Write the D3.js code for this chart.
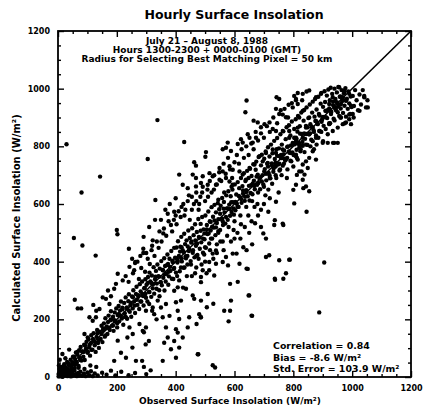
<!DOCTYPE html>
<html>
<head>
<meta charset="utf-8">
<script src="https://cdn.jsdelivr.net/npm/d3@7"></script>
<style>
  html, body { margin: 0; padding: 0; background: #fff; }
  svg { display: block; }
  text { font-family: "DejaVu Sans", "Liberation Sans", sans-serif; font-weight: bold; fill: #000; }
</style>
</head>
<body>
<svg id="chart" width="423" height="410"></svg>
<script>
// ---------------- data ----------------
const title = "Hourly Surface Insolation";
const subtitleLines = [
  "July 21 \u2013 August 8, 1988",
  "Hours 1300-2300 + 0000-0100 (GMT)",
  "Radius for Selecting Best Matching Pixel = 50 km"
];
const statsLines = [
  "Correlation = 0.84",
  "Bias = -8.6 W/m\u00b2",
  "Std. Error = 103.9 W/m\u00b2"
];
const xLabel = "Observed Surface Insolation (W/m\u00b2)";
const yLabel = "Calculated Surface Insolation (W/m\u00b2)";
const majorTicks = [0, 200, 400, 600, 800, 1000, 1200];
const minorTicks = [50,100,150,250,300,350,450,500,550,650,700,750,850,900,950,1050,1100,1150];
const diagonal = [[0, 0], [1200, 1200]];

// observed, calculated pairs (W/m^2)
const cornerPoints = [[2,2],[5,15],[8,4],[12,10],[16,2],[20,18],[24,6],[28,14],[32,3],[36,20],[40,8],[44,2],[48,15],[52,5],[56,22],[60,10],[64,3],[68,14],[72,5],[76,18],[82,4],[88,12],[94,3],[100,16],[106,6],[112,20],[118,3],[125,12],[135,5],[150,15],[165,8],[180,22],[195,5],[215,18],[240,6],[262,14],[300,10],[3,40],[10,28],[18,34],[30,30],[45,40],[60,45],[70,32],[90,28],[110,40],[130,35],[25,65],[15,80],[38,95],[6,60]];

const bandPoints = [
[2,10],[5,28],[7,3],[9,19],[13,35],[15,8],[18,27],[21,44],[22,12],[26,33],[29,18],[31,52],[34,26],[38,41],[39,15],[43,60],[45,33],[48,22],
[51,70],[53,44],[57,31],[58,62],[61,85],[64,49],[66,77],[70,38],[72,93],[75,66],[77,104],[80,57],[84,89],[86,70],[89,112],[91,59],[95,98],[97,122],
[101,84],[104,131],[106,103],[109,74],[112,118],[113,145],[117,95],[120,128],[121,152],[125,110],[128,87],[131,139],[133,163],[136,118],[139,101],[142,157],[145,132],[148,178],
[151,121],[153,163],[156,186],[159,140],[161,204],[164,170],[168,149],[170,191],[172,213],[176,163],[179,197],[180,228],[184,178],[187,209],[189,160],[193,224],[196,192],[198,238],
[201,172],[203,215],[206,246],[208,193],[211,231],[214,262],[217,203],[219,240],[222,181],[225,257],[227,221],[230,276],[233,239],[235,202],[239,263],[241,287],[244,226],[247,258],[249,209],
[252,279],[254,238],[256,301],[259,263],[262,222],[265,288],[267,313],[270,250],[273,279],[276,236],[278,322],[281,297],[283,262],[286,331],[289,281],[291,248],[295,309],[297,339],[299,275],
[301,320],[304,262],[306,347],[309,295],[311,362],[314,331],[317,278],[319,352],[322,308],[325,381],[327,289],[330,339],[333,368],[335,306],[338,390],[341,350],[344,301],[346,376],[349,329],
[351,402],[353,318],[356,371],[358,344],[361,412],[364,385],[366,331],[369,358],[372,425],[374,392],[377,349],[379,410],[382,368],[385,437],[387,341],[390,399],[393,375],[395,448],[398,414],
[401,362],[403,449],[406,397],[408,471],[411,420],[414,367],[416,452],[419,486],[421,401],[424,440],[427,379],[429,497],[432,461],[435,412],[437,474],[440,390],[443,508],[445,437],[448,482],
[451,402],[453,466],[456,516],[458,431],[461,492],[464,415],[466,530],[469,455],[472,503],[474,423],[477,548],[479,486],[482,445],[485,531],[487,467],[490,555],[493,431],[495,512],[498,478],
[501,560],[503,448],[506,527],[508,496],[511,574],[514,463],[516,540],[519,508],[522,589],[524,480],[527,556],[529,518],[532,597],[535,492],[537,571],[540,534],[543,603],[545,506],[548,582],
[551,510],[553,594],[556,548],[558,621],[561,527],[564,607],[566,571],[569,532],[572,630],[574,585],[577,545],[579,644],[582,598],[585,559],[587,627],[590,572],[593,650],[595,606],[598,563],
[601,668],[603,578],[606,633],[608,601],[611,676],[614,590],[616,655],[619,623],[622,690],[624,604],[627,662],[629,636],[632,707],[635,611],[637,680],[640,648],[643,715],[645,627],[648,690],
[651,612],[653,722],[656,665],[658,697],[661,634],[664,738],[666,681],[669,651],[672,719],[674,747],[677,667],[679,702],[682,763],[685,688],[687,651],[690,734],[693,771],[695,700],[698,668],
[701,757],[703,721],[706,782],[708,682],[711,740],[714,797],[716,708],[719,765],[722,689],[724,806],[727,741],[729,776],[732,712],[735,819],[737,756],[740,700],[743,790],[745,829],[748,737],
[751,793],[753,716],[756,842],[758,770],[761,806],[764,733],[766,852],[769,785],[772,751],[774,825],[777,866],[779,760],[782,800],[785,873],[787,778],[790,838],[793,748],[795,886],[798,812],
[801,770],[803,860],[806,828],[808,894],[811,788],[814,851],[816,905],[819,812],[822,870],[824,783],[827,917],[829,843],[832,802],[835,889],[837,926],[840,826],[843,871],[845,935],[848,805],
[851,898],[853,842],[856,945],[858,877],[861,823],[864,917],[866,955],[869,856],[872,903],[874,964],[877,838],[879,928],[882,880],[885,972],[887,912],[890,853],[893,948],[895,985],[898,893],
[901,937],[903,871],[906,991],[908,954],[911,901],[914,976],[916,925],[919,997],[922,880],[924,960],[927,1003],[929,919],[932,982],[935,943],[937,896],[940,1000],[943,964],[945,925],[948,987],
[951,948],[953,1006],[956,905],[958,972],[961,931],[964,995],[966,957],[969,916],[972,984],[974,941],[977,1002],[979,903],[982,965],[985,930],[987,990],[990,949],[993,912],[995,973],[998,936],
[1002,975],[1006,940],[1010,995],[1015,960],[1020,925],[1025,980],[1030,945],[1036,995],[1041,970],[1047,935],[1052,960]
];

const corePoints = [
[10,16],[15,1],[23,42],[29,26],[36,47],[40,22],[49,51],[55,70],[62,53],[67,88],[75,59],[81,89],[88,87],[92,109],[101,89],[107,111],[114,94],[119,132],[127,121],[134,152],[139,128],[148,149],[154,168],[161,144],[166,175],[174,170],[180,200],[187,179],[192,197],[201,186],[207,219],[214,212],[219,235],[228,209],[234,241],[241,231],[246,249],[255,277],[261,248],[268,268],
[273,284],[280,262],[286,288],[293,308],[297,288],[305,326],[311,295],[318,326],[323,322],[331,348],[336,324],[344,348],[349,329],[357,370],[362,356],[370,388],[376,365],[381,382],[389,403],[395,378],[402,411],[407,403],[415,435],[420,412],[428,433],[434,419],[441,453],[446,444],[454,470],[459,440],[467,474],[473,463],[480,483],[485,507],[493,480],[498,498],[506,512],[512,498],[519,538],[524,521],
[532,543],[537,519],[545,547],[551,566],[558,549],[563,584],[571,555],[577,585],[584,583],[589,606],[597,585],[603,607],[610,590],[615,628],[623,617],[629,647],[636,625],[641,642],[649,663],[655,638],[662,671],[667,663],[675,695],[681,673],[688,693],[693,678],[701,713],[707,705],[714,730],[719,700],[727,734],[733,723],[740,743],[745,767],[753,740],[759,759],[766,772],[771,757],[779,798],[785,782],
[792,803],[797,779],[805,807],[811,826],[818,809],[823,844],[831,815],[837,845],[844,843],[849,866],[857,845],[863,867],[870,850],[875,888],[883,877],[889,907],[896,885],[901,902],[909,923],[915,898],[922,931],[927,923],[935,955],[941,933],[948,953],[953,938],[961,973],[967,965],[974,990],[979,960]
];

const upperPoints = [
[29,807],[80,640],[54,482],[83,456],[143,695],[128,421],[200,510],[202,495],[241,445],[291,486],[290,445],[290,430],[305,756],[338,891],[429,815],[641,959],[637,918],[331,614],[322,474],[345,505],[358,498],[373,566],[395,573],[384,527],[252,410],[263,399],[243,382],[259,370],[203,358],[220,335],[197,323],[191,306],[152,276],[163,271],[141,236],[175,253],[107,207],[118,195],[129,207],[90,149],[101,137],[57,268],[67,238],[79,238],
[743,970],[752,964],[803,975],[809,960],[784,944],[798,935],[741,930],[752,912],[764,910],[775,901],[665,889],[679,883],[690,866],[702,877],[719,883],[730,860],[645,842],[651,830],[673,830],[662,813],[622,825],[628,813],[611,808],[577,813],[571,795],[588,784],[560,790],[503,780],[501,764],[463,745],[469,733],[412,702],[458,702],[469,690],[492,696],[515,707],[526,696],[549,725],[560,713],[583,731],[594,719],[424,667],[441,655],[469,661],[486,673],[509,667],[537,667],[549,684],[571,690],[583,678],[594,667],[628,702],[639,684],[617,713],[651,725],[668,737],[685,766],[696,748],[707,777],[713,742],[730,789],[741,777],[752,766],[764,789],[775,754],[792,777],[809,766],[741,853],[764,853],[786,853],[803,830],[815,865],[786,830],[809,818],[820,806],
[380,600],[400,620],[420,590],[445,630],[470,610],[490,640],[510,625],[530,650],[545,615],[565,640],[590,660],[430,560],[455,580],[480,600],[350,545],[365,580],[400,560],[310,520],[330,545],[300,430],[320,455],[270,400],[280,420],[240,330],[230,350],[180,280],[170,300],[130,230],[120,250],
[956,1005],[973,994],[990,982],[968,970],[979,958],[962,947],[1041,975],[1053,935],[1025,923],[934,970],[922,947],[945,935],[911,923],[928,912],[951,918],[996,941],[1002,912],[990,894],[979,883],[996,877],[962,900],[968,877],[951,865],[900,900],[877,888],[854,900],[832,923],[820,900],[843,865],[866,865],[888,853],[832,982],[854,994],[877,970],[894,982],[809,964],[815,947],[922,877],[934,853],[917,842],
[255,360],[262,395],[275,340],[283,378],[296,365],[305,410],[312,392],[318,440],[328,420],[336,470],[342,448],[352,470],[360,515],[368,490],[376,540],[388,505],[394,545],[403,530],[410,575],[417,555],[426,600],[433,580],[441,610],[448,545],[455,625],[462,600],[470,640],[478,580],[484,625],[492,660],[500,610],[508,650],[516,680],[522,640],[531,700],[540,668],[548,710],[555,680],[563,740],[570,705],[578,760],[585,720],[592,690],[600,745],[608,770],[615,740],[624,790],[632,760],[640,800],[648,770],[657,810],[665,790],[672,850],[680,820],[690,845],[700,830],[710,870],[720,850],[732,900],[745,880],[757,925],[770,930],[782,900],[795,950],[815,985],[830,960],[845,990]
];

const lowerPoints = [
[854,842],[832,830],[809,830],[843,806],[820,795],[866,818],[877,830],[900,812],[917,812],[939,812],[951,812],[866,783],[854,760],[843,748],[832,737],[877,754],[849,725],[838,702],[832,684],[843,661],[854,644],[809,771],[815,754],[820,713],[809,667],
[658,213],[888,224],[905,397],[788,407],[766,341],[737,341],[752,405],[707,480],[718,422],[641,376],[650,283],[585,323],[585,230],[528,254],[506,242],[485,207],[471,184],[477,79],[534,33],[607,428],[641,440],[670,533],[698,498],[715,573],[737,544],[766,527],[800,649],[834,655],[845,573],[812,701],[828,713],[879,806],[901,818],[935,812],
[741,608],[803,602],[735,527],[764,532],[707,416],[786,407],[775,360],[738,337],[645,375],[617,393],[578,387],[560,399],[537,393],[594,428],[571,416],[537,439],[526,428],[611,330],[648,283],[588,265],[565,230],[580,193],[660,212],[514,399],[492,370],[486,347],[486,329],[514,370],[531,352],[412,335],[435,306],[458,283],[463,271],[486,265],[509,288],[480,218],[486,207],[446,207],[441,172],[424,137],[412,102],[401,67],[418,265],[407,230],[412,201],[407,154],[475,79],[526,41],
[203,126],[236,137],[253,102],[231,67],[265,56],[214,84],[191,56],[292,155],[298,113],[309,125],[286,56],[292,35],[315,23],[361,119],[373,137],[356,56],[384,96],[395,125],[401,166],[356,207],[339,265],[367,253],[350,241],[401,259],[407,311],[395,299],[310,253],[322,241],[299,230],[327,218],[231,207],[243,172],[254,149],[277,184],[288,160],[299,172],[367,172],[379,212],
[430,380],[455,350],[470,420],[500,450],[520,480],[545,500],[560,470],[580,520],[600,540],[620,560],[640,590],[660,610],[680,640],[700,660],[720,690],[620,480],[650,500],[680,560],[700,600],[560,540],[540,460],[500,400],[470,380],[440,420],[420,450],[600,480],[630,450],[660,460],[690,520],[720,620],[750,640],[760,700],[780,720],[760,760],[740,730],
[320,230],[335,200],[345,280],[362,300],[375,320],[392,340],[405,350],[418,380],[425,310],[438,350],[452,390],[466,360],[478,410],[488,390],[497,425],[505,360],[517,440],[528,410],[540,430],[552,470],[563,440],[575,490],[588,470],[597,510],[610,500],[622,530],[635,520],[647,560],[658,540],[668,590],[678,600],[690,580],[705,630],[715,650],[728,670],[742,690],[755,720],[768,740],[778,690],[790,750],[800,730],[812,760],[825,790],[838,780],[858,800],[870,790],[885,830],[895,850],[910,860],[925,880],[940,890],[960,900],[975,880],[990,910],[1005,900]
];

// ---------------- drawing ----------------
const svg = d3.select("#chart");
const W = 423, H = 410;
const plot = { left: 58, right: 411, top: 31, bottom: 377 };

const x = d3.scaleLinear().domain([0, 1200]).range([plot.left, plot.right]);
const y = d3.scaleLinear().domain([0, 1200]).range([plot.bottom, plot.top]);

svg.append("rect").attr("width", W).attr("height", H).attr("fill", "#fff");

// points
const allPoints = [].concat(cornerPoints, bandPoints, corePoints, upperPoints, lowerPoints);
svg.append("g").selectAll("circle").data(allPoints).join("circle")
  .attr("cx", d => x(d[0]))
  .attr("cy", d => y(d[1]))
  .attr("r", 2.2)
  .attr("fill", "#000");

// diagonal 1:1 line
svg.append("path")
  .attr("d", d3.line().x(d => x(d[0])).y(d => y(d[1]))(diagonal))
  .attr("stroke", "#000").attr("stroke-width", 1.6).attr("fill", "none");

// axes (ticks point inward)
function styleAxis(g) {
  g.select(".domain").remove();
  g.selectAll("line").attr("stroke", "#000").attr("stroke-width", 1.4);
}
const fmt = d3.format("d");
const fontTick = 8;
function styleLabels(g) {
  g.selectAll("text").attr("font-size", fontTick).attr("font-weight", "bold")
    .attr("font-family", "DejaVu Sans").attr("fill", "#000");
}
svg.append("g").attr("transform", `translate(0,${plot.bottom})`)
  .call(d3.axisBottom(x).tickValues(majorTicks).tickFormat(fmt).tickSize(-6).tickPadding(8))
  .call(styleAxis).call(styleLabels);
svg.append("g").attr("transform", `translate(0,${plot.bottom})`)
  .call(d3.axisBottom(x).tickValues(minorTicks).tickSize(-3).tickFormat(""))
  .call(styleAxis);
svg.append("g").attr("transform", `translate(0,${plot.top})`)
  .call(d3.axisTop(x).tickValues(majorTicks).tickSize(-6).tickFormat(""))
  .call(styleAxis);
svg.append("g").attr("transform", `translate(0,${plot.top})`)
  .call(d3.axisTop(x).tickValues(minorTicks).tickSize(-3).tickFormat(""))
  .call(styleAxis);
svg.append("g").attr("transform", `translate(${plot.left},0)`)
  .call(d3.axisLeft(y).tickValues(majorTicks).tickFormat(fmt).tickSize(-6).tickPadding(8))
  .call(styleAxis).call(styleLabels);
svg.append("g").attr("transform", `translate(${plot.left},0)`)
  .call(d3.axisLeft(y).tickValues(minorTicks).tickSize(-3).tickFormat(""))
  .call(styleAxis);
svg.append("g").attr("transform", `translate(${plot.right},0)`)
  .call(d3.axisRight(y).tickValues(majorTicks).tickSize(-6).tickFormat(""))
  .call(styleAxis);
svg.append("g").attr("transform", `translate(${plot.right},0)`)
  .call(d3.axisRight(y).tickValues(minorTicks).tickSize(-3).tickFormat(""))
  .call(styleAxis);

// frame
svg.append("rect")
  .attr("x", plot.left).attr("y", plot.top)
  .attr("width", plot.right - plot.left).attr("height", plot.bottom - plot.top)
  .attr("fill", "none").attr("stroke", "#000").attr("stroke-width", 1.8);

// title
svg.append("text").attr("x", 234).attr("y", 19).attr("text-anchor", "middle")
  .attr("font-size", 12.5).text(title);

// subtitles
svg.append("g").selectAll("text").data(subtitleLines).join("text")
  .attr("x", 207).attr("y", (d, i) => 44 + i * 9.2)
  .attr("text-anchor", "middle").attr("font-size", 9).text(d => d);

// stats
svg.append("g").selectAll("text").data(statsLines).join("text")
  .attr("x", 273).attr("y", (d, i) => 349 + i * 11.5)
  .attr("font-size", 9.4).text(d => d);

// axis titles
svg.append("text").attr("x", 230).attr("y", 404).attr("text-anchor", "middle")
  .attr("font-size", 9).text(xLabel);
svg.append("text").attr("transform", "translate(20,218) rotate(-90)")
  .attr("text-anchor", "middle").attr("font-size", 10).text(yLabel);
</script>
</body>
</html>
